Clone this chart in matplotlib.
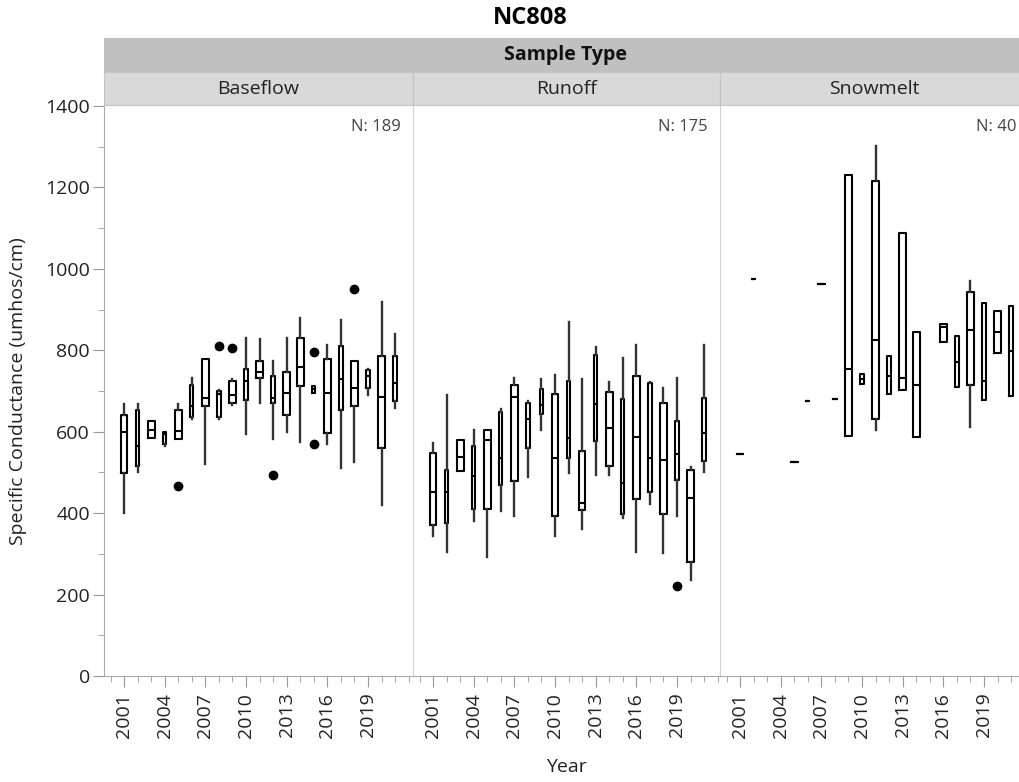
import matplotlib
matplotlib.use('Agg')
import matplotlib.pyplot as plt
from matplotlib.ticker import MultipleLocator, FixedLocator

plt.rcParams['font.family'] = ['Open Sans', 'DejaVu Sans']

# box stats per year: whisker low, q1, median, q3, whisker high
base_years = list(range(2001, 2022))
base_lo = [401, 502, 584, 565, 583, 631, 521, 631, 665, 595, 671, 583, 599, 574, 695, 570, 511, 525, 689, 419, 658]
base_q1 = [499, 517, 584, 569, 583, 636, 662, 636, 670, 679, 733, 671, 641, 712, 695, 596, 653, 662, 707, 560, 675]
base_med = [600, 565, 605, 595, 601, 662, 684, 693, 689, 725, 746, 684, 694, 759, 705, 694, 729, 707, 737, 685, 720]
base_q3 = [640, 653, 627, 600, 653, 715, 778, 701, 725, 754, 774, 737, 746, 830, 712, 778, 811, 774, 751, 786, 786]
base_hi = [667, 668, 627, 600, 668, 733, 778, 703, 730, 831, 827, 774, 831, 880, 712, 813, 874, 774, 754, 919, 841]
base_out_years = [2005, 2008, 2009, 2012, 2015, 2015, 2018]
base_out_vals = [467, 811, 805, 493, 797, 569, 950]

run_years = list(range(2001, 2022))
run_lo = [344, 305, 504, 380, 293, 406, 393, 490, 604, 344, 499, 362, 494, 494, 388, 305, 423, 301, 393, 236, 502]
run_q1 = [372, 377, 504, 411, 409, 468, 478, 561, 644, 393, 535, 407, 578, 517, 399, 434, 452, 398, 481, 279, 527]
run_med = [452, 452, 538, 491, 580, 535, 685, 631, 666, 535, 584, 426, 667, 609, 475, 588, 535, 530, 545, 437, 597]
run_q3 = [548, 507, 580, 566, 605, 648, 715, 670, 705, 693, 724, 552, 789, 697, 680, 737, 720, 671, 627, 505, 684]
run_hi = [572, 690, 580, 603, 605, 656, 733, 676, 729, 739, 870, 729, 808, 721, 782, 813, 722, 707, 733, 513, 813]
run_out_years = [2019]
run_out_vals = [221]

snow_years = [2001, 2002, 2005, 2006, 2007, 2008, 2009, 2010, 2011, 2012, 2013, 2014, 2016, 2017, 2018, 2019, 2020, 2021]
snow_lo = [546, 975, 526, 675, 962, 680, 590, 718, 604, 692, 702, 586, 820, 710, 611, 679, 793, 687]
snow_q1 = [546, 975, 526, 675, 962, 680, 590, 718, 631, 692, 702, 586, 820, 710, 714, 679, 793, 687]
snow_med = [546, 975, 526, 675, 962, 680, 755, 730, 825, 737, 733, 714, 857, 772, 851, 724, 846, 798]
snow_q3 = [546, 975, 526, 675, 962, 680, 1231, 742, 1215, 785, 1089, 846, 864, 834, 944, 917, 896, 909]
snow_hi = [546, 975, 526, 675, 962, 680, 1231, 742, 1302, 785, 1089, 846, 864, 834, 971, 917, 896, 909]
snow_out_years = []
snow_out_vals = []

panel_names = ['Baseflow', 'Runoff', 'Snowmelt']
panel_n = [189, 175, 40]

# box widths alternate a bit in the original rendering
wide_years = [
    [2001, 2003, 2005, 2007, 2009, 2011, 2013, 2014, 2016, 2018, 2020],
    [2001, 2003, 2005, 2007, 2010, 2012, 2014, 2016, 2018, 2020],
    [2001, 2005, 2007, 2009, 2011, 2013, 2014, 2016, 2018, 2020],
]

panels = [
    (base_years, base_lo, base_q1, base_med, base_q3, base_hi, base_out_years, base_out_vals),
    (run_years, run_lo, run_q1, run_med, run_q3, run_hi, run_out_years, run_out_vals),
    (snow_years, snow_lo, snow_q1, snow_med, snow_q3, snow_hi, snow_out_years, snow_out_vals),
]

W, H = 1019, 782
fig = plt.figure(figsize=(W / 100, H / 100), dpi=100)

plot_bottom = (H - 676) / H
plot_h = 570 / H
lefts = [104, 413, 720]
widths_px = [309, 307, 309]

axes = []
for i, (yrs, lo, q1, med, q3, hi, oy, ov) in enumerate(panels):
    ax = fig.add_axes([lefts[i] / W, plot_bottom, widths_px[i] / W, plot_h])
    stats = []
    for j, yr in enumerate(yrs):
        fl = [v for y2, v in zip(oy, ov) if y2 == yr]
        stats.append(dict(med=med[j], q1=q1[j], q3=q3[j], whislo=lo[j], whishi=hi[j], fliers=fl))
    bw = [0.5 if yr in wide_years[i] else 0.25 for yr in yrs]
    ax.bxp(stats, positions=yrs, widths=bw, showcaps=False, manage_ticks=False,
           boxprops=dict(color='black', lw=1.5),
           medianprops=dict(color='black', lw=1.5),
           whiskerprops=dict(color='#333333', lw=1.7),
           flierprops=dict(marker='o', markerfacecolor='black', markeredgecolor='black', markersize=6))
    ax.set_ylim(0, 1400)
    ax.set_xlim(1999.52, 1999.52 + widths_px[i] / 13.55)
    ax.xaxis.set_major_locator(FixedLocator(list(range(2001, 2022, 3))))
    ax.xaxis.set_minor_locator(MultipleLocator(1))
    ax.tick_params(axis='x', which='major', length=8, color='#999999', labelsize=14,
                   labelrotation=90, labelcolor='#222222', pad=4)
    ax.tick_params(axis='x', which='minor', length=4, color='#999999')
    ax.spines['top'].set_visible(False)
    ax.spines['right'].set_visible(False)
    ax.spines['bottom'].set_color('#aaaaaa')
    if i == 0:
        ax.spines['left'].set_color('#aaaaaa')
        ax.yaxis.set_major_locator(MultipleLocator(200))
        ax.yaxis.set_minor_locator(MultipleLocator(100))
        ax.tick_params(axis='y', which='major', length=8, color='#999999', labelsize=14,
                       labelcolor='#222222', pad=2)
        ax.tick_params(axis='y', which='minor', length=4, color='#999999')
    else:
        ax.spines['left'].set_color('#d4d4d4')
        ax.tick_params(axis='y', which='both', left=False, labelleft=False)
    ax.text(1 - 12 / widths_px[i], 1 - 21 / 570, f'N: {panel_n[i]}', transform=ax.transAxes,
            ha='right', va='center', fontsize=12, color='#444444')
    axes.append(ax)

    # panel strip
    sax = fig.add_axes([lefts[i] / W, (H - 105) / H, widths_px[i] / W, 33 / H])
    sax.set_facecolor('#d9d9d9')
    sax.set_xticks([])
    sax.set_yticks([])
    for s in sax.spines.values():
        s.set_color('#c4c4c4')
    sax.text(0.5, 0.5, panel_names[i], ha='center', va='center', fontsize=14, color='#222222',
             transform=sax.transAxes)

band = fig.add_axes([104 / W, (H - 72) / H, 924 / W, 34 / H])
band.set_facecolor('#c0c0c0')
band.set_xticks([])
band.set_yticks([])
for s in band.spines.values():
    s.set_visible(False)
band.text(0.5, 0.5, 'Sample Type', ha='center', va='center', fontsize=14, fontweight='bold',
          color='#111111', transform=band.transAxes)

fig.text(530 / W, 1 - 18 / H, 'NC808', ha='center', va='center', fontsize=17, fontweight='bold')
fig.text(566 / W, 1 - 767 / H, 'Year', ha='center', va='center', fontsize=14, color='#222222')
fig.text(18 / W, (H - 391) / H, 'Specific Conductance (umhos/cm)', rotation=90,
         ha='center', va='center', fontsize=14, color='#222222')

plt.savefig('out.png', dpi=100)
plt.close('all')
